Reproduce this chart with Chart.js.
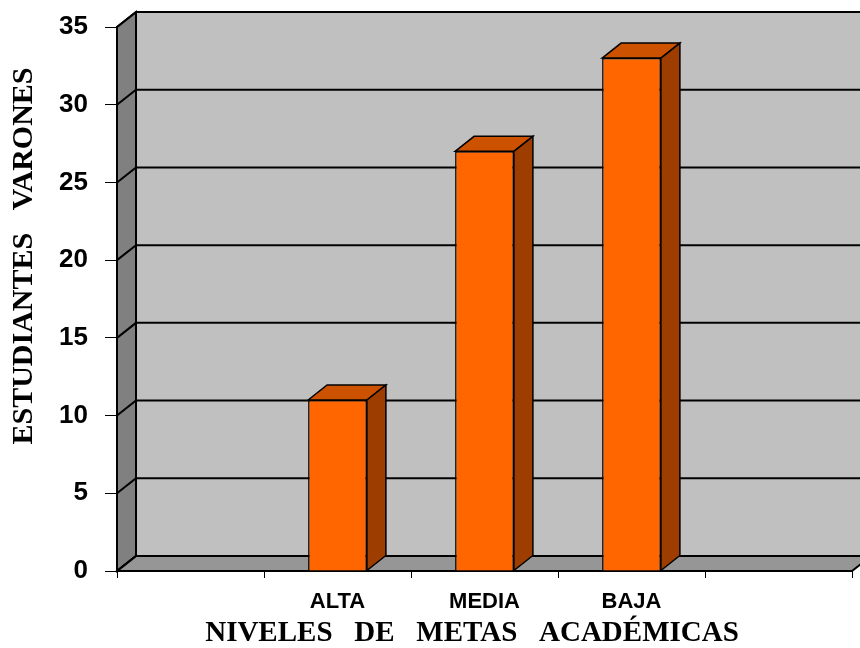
<!DOCTYPE html>
<html>
<head>
<meta charset="utf-8">
<script src="https://cdn.jsdelivr.net/npm/chart.js@4"></script>
<style>
  html, body { margin: 0; padding: 0; background: #ffffff; }
  #wrap { width: 860px; height: 648px; }
</style>
</head>
<body>
<div id="wrap"><canvas id="grafico"></canvas></div>
<script>
// datos del gráfico
const categorias = ['', 'ALTA', 'MEDIA', 'BAJA', ''];
const estudiantes = [null, 11, 27, 33, null];
const yMin = 0;
const yMax = 35;
const yPaso = 5;
const tituloY = 'ESTUDIANTES   VARONES';
const tituloX = 'NIVELES   DE   METAS   ACADÉMICAS';

// profundidad del efecto 3D
const DX = 19, DY = 15;

function poligono(ctx, pts, relleno) {
    ctx.beginPath();
    ctx.moveTo(pts[0][0], pts[0][1]);
    for (let i = 1; i < pts.length; i++) ctx.lineTo(pts[i][0], pts[i][1]);
    ctx.closePath();
    ctx.fillStyle = relleno;
    ctx.fill();
    ctx.stroke();
}

const efecto3D = {
    id: 'efecto3D',
    beforeDraw(chart) {
        const ctx = chart.ctx;
        const { left, right, top, bottom } = chart.chartArea;
        const y = chart.scales.y;
        ctx.save();
        ctx.strokeStyle = '#000000';
        ctx.lineWidth = 2;
        // pared del fondo
        ctx.fillStyle = '#C0C0C0';
        ctx.fillRect(left + DX, top - DY, right - left, bottom - top);
        // pared izquierda
        poligono(ctx, [[left, top], [left + DX, top - DY], [left + DX, bottom - DY], [left, bottom]], '#808080');
        // piso
        poligono(ctx, [[left, bottom], [left + DX, bottom - DY], [right + DX, bottom - DY], [right, bottom]], '#969696');
        // líneas de división
        y.ticks.forEach(t => {
            const yy = y.getPixelForValue(t.value);
            ctx.beginPath();
            ctx.moveTo(left, yy);
            ctx.lineTo(left + DX, yy - DY);
            ctx.lineTo(right + DX + 20, yy - DY);
            ctx.stroke();
        });
        ctx.beginPath();
        ctx.moveTo(left + DX, top - DY);
        ctx.lineTo(left + DX, bottom - DY);
        ctx.stroke();
        ctx.restore();
    },
    afterDatasetsDraw(chart) {
        const ctx = chart.ctx;
        const meta = chart.getDatasetMeta(0);
        ctx.save();
        ctx.strokeStyle = '#000000';
        ctx.lineWidth = 1.5;
        meta.data.forEach((barra, i) => {
            if (estudiantes[i] === null) return;
            const { x, y, base, width } = barra.getProps(['x', 'y', 'base', 'width'], true);
            const l = x - width / 2, r = x + width / 2;
            poligono(ctx, [[l, y], [l + DX, y - DY], [r + DX, y - DY], [r, y]], '#CC5200');
            poligono(ctx, [[r, y], [r + DX, y - DY], [r + DX, base - DY], [r, base]], '#9E3D00');
        });
        ctx.restore();
    },
    afterDraw(chart) {
        const ctx = chart.ctx;
        ctx.save();
        ctx.fillStyle = '#000000';
        ctx.textAlign = 'center';
        ctx.textBaseline = 'middle';
        ctx.font = 'bold 29px "Liberation Serif"';
        ctx.fillText(tituloX, 472, 634);
        ctx.font = 'bold 30px "Liberation Serif"';
        ctx.translate(24, 256);
        ctx.rotate(-Math.PI / 2);
        ctx.fillText(tituloY, 0, 0);
        ctx.restore();
    }
};

const ctx = document.getElementById('grafico').getContext('2d');
new Chart(ctx, {
    type: 'bar',
    data: {
        labels: categorias,
        datasets: [{
            label: 'Estudiantes varones',
            data: estudiantes,
            backgroundColor: '#FF6600',
            borderColor: '#000000',
            borderWidth: 1.5,
            categoryPercentage: 1.0,
            barPercentage: 0.4
        }]
    },
    options: {
        responsive: true,
        maintainAspectRatio: false,
        animation: false,
        layout: { padding: { left: 0, top: 27, right: 8, bottom: 0 } },
        plugins: {
            legend: { display: false },
            tooltip: { enabled: false }
        },
        scales: {
            x: {
                afterFit(scale) {
                    scale.height = 77;
                    scale.paddingLeft = 0;
                    scale.paddingRight = 0;
                },
                grid: { drawOnChartArea: false, offset: true, tickLength: 7, color: '#000000', lineWidth: 1 },
                border: { display: true, color: '#000000', width: 2 },
                ticks: {
                    color: '#000000',
                    padding: 11,
                    maxRotation: 0,
                    font: { family: 'Liberation Sans', size: 22, weight: 'bold' }
                }
            },
            y: {
                min: yMin,
                max: yMax,
                afterFit(scale) {
                    scale.width = 117;
                    scale.paddingTop = 0;
                    scale.paddingBottom = 0;
                },
                grid: { drawOnChartArea: false, tickLength: 12, color: '#000000', lineWidth: 1 },
                border: { display: true, color: '#000000', width: 2 },
                ticks: {
                    stepSize: yPaso,
                    color: '#000000',
                    padding: 17,
                    font: { family: 'Liberation Sans', size: 26, weight: 'bold' }
                }
            }
        }
    },
    plugins: [efecto3D]
});
</script>
</body>
</html>
